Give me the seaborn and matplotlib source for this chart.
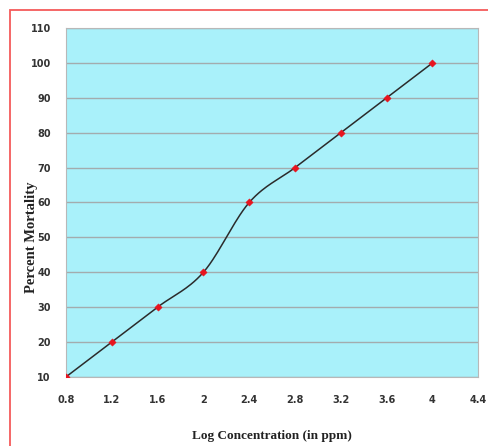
import numpy as np
import pandas as pd
import seaborn as sns
import matplotlib.pyplot as plt
from matplotlib.patches import Rectangle

# data
log_conc = [0.8, 1.2, 1.6, 2.0, 2.4, 2.8, 3.2, 3.6, 4.0]
mortality = [10, 20, 30, 40, 60, 70, 80, 90, 100]
x_ticks = [0.8, 1.2, 1.6, 2, 2.4, 2.8, 3.2, 3.6, 4, 4.4]
y_ticks = [10, 20, 30, 40, 50, 60, 70, 80, 90, 100, 110]


def smooth_line(x, y, n=30):
    """Catmull-Rom smoothing like the spreadsheet smoothed line"""
    x = np.asarray(x, float)
    y = np.asarray(y, float)
    px = np.concatenate([[2 * x[0] - x[1]], x, [2 * x[-1] - x[-2]]])
    py = np.concatenate([[2 * y[0] - y[1]], y, [2 * y[-1] - y[-2]]])
    xs, ys = [], []
    t = np.linspace(0, 1, n)
    for i in range(1, len(px) - 2):
        for p, out in ((px, xs), (py, ys)):
            p0, p1, p2, p3 = p[i - 1], p[i], p[i + 1], p[i + 2]
            out.extend(0.5 * ((2 * p1) + (-p0 + p2) * t
                              + (2 * p0 - 5 * p1 + 4 * p2 - p3) * t ** 2
                              + (-p0 + 3 * p1 - 3 * p2 + p3) * t ** 3))
    return pd.DataFrame({'x': xs, 'y': ys})


df = pd.DataFrame({'x': log_conc, 'y': mortality})
curve = smooth_line(log_conc, mortality)

sns.set_style('white')
fig = plt.figure(figsize=(4.89, 4.46), dpi=100)
ax = fig.add_axes([0.135, 0.155, 0.843, 0.782])
ax.set_facecolor('#A9F1FA')

# red frame around the chart
fig.patches.append(Rectangle((10 / 489, -0.05), 1.2, 1 - 10 / 446 + 0.05,
                             transform=fig.transFigure, fill=False,
                             edgecolor='#F55A5A', linewidth=1.3))

sns.lineplot(data=curve, x='x', y='y', sort=False, color='#2b2b2b',
             linewidth=1.1, ax=ax, zorder=3)
sns.scatterplot(data=df, x='x', y='y', marker='D', s=14, color='#E8141E',
                edgecolor='#E8141E', ax=ax, zorder=4)

ax.set_xlim(0.8, 4.4)
ax.set_ylim(10, 110)
ax.set_xticks(x_ticks)
ax.set_xticklabels([f'{v:g}' for v in x_ticks])
ax.set_yticks(y_ticks)
ax.yaxis.grid(True, color='#a3acae', linewidth=1.0)
ax.set_axisbelow(True)
for s in ax.spines.values():
    s.set_color('#b8b8b8')
    s.set_linewidth(0.8)
ax.tick_params(axis='both', which='major', length=4, width=0.8,
               color='#9a9a9a', labelsize=7, pad=7)
ax.tick_params(axis='x', pad=9)
for lab in ax.get_xticklabels() + ax.get_yticklabels():
    lab.set_fontweight('bold')
    lab.set_color('#333333')

ax.set_xlabel('Log Concentration (in ppm)', fontsize=9.5, fontweight='bold',
              family='Liberation Serif', labelpad=18, color='#222222')
ax.set_ylabel('Percent Mortality', fontsize=10.5, fontweight='bold',
              family='Liberation Serif', color='#222222')
ax.yaxis.set_label_coords(-0.068, 0.40)

plt.savefig('out.png', dpi=100)
